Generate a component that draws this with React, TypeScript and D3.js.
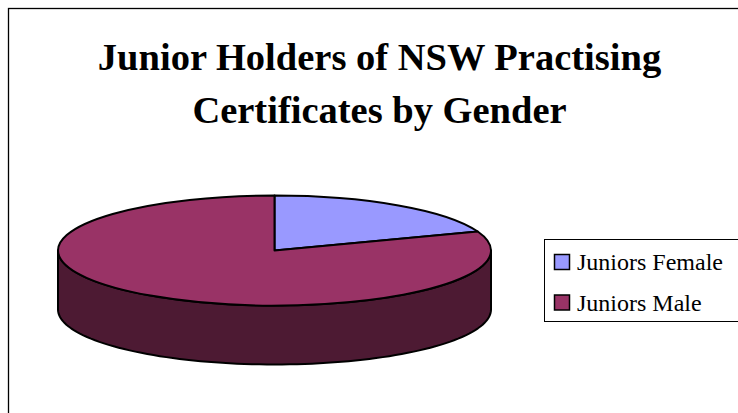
import React from 'react';
import * as d3 from 'd3';

const categories = ['Juniors Female', 'Juniors Male'];
const values = [19.4, 80.6];
const colors = ['#9999ff', '#993366'];
const wallColor = '#4d1a33';
const titleLines = ['Junior Holders of NSW Practising', 'Certificates by Gender'];

const width = 738;
const height = 413;

// pie ellipse
const cx = 274.5;
const cy = 250.5;
const rx = 216.5;
const ry = 55;
const depth = 59;

const serif = '"Liberation Serif", "Times New Roman", serif';

const pie = d3.pie<number>().sort(null);
const arcs = pie(values);
const arc = d3.arc<d3.PieArcDatum<number>>().innerRadius(0).outerRadius(rx);

// front wall of the pie, only the lower half of the ellipse shows
const wallAngles = d3.range(0, 181, 2).map(d => (d * Math.PI) / 180);
const wall = d3.area<number>()
  .x(t => cx + rx * Math.cos(t))
  .y0(t => cy + ry * Math.sin(t))
  .y1(t => cy + ry * Math.sin(t) + depth);

const legendY = d3.scalePoint<string>().domain(categories).range([262, 302.5]);

export default function App() {
  return (
    <svg width={width} height={height} style={{ position: 'absolute', left: 0, top: 0, background: '#fff' }}>
      {/* chart frame */}
      <rect x={8.5} y={8.5} width={width + 10} height={height + 10} fill="none" stroke="#000" strokeWidth={1.3} />

      <g fontFamily={serif} fontWeight="bold" fontSize={38.5} textAnchor="middle" fill="#000">
        {titleLines.map((line, i) => (
          <text key={line} x={379.5} y={70 + i * 53}>{line}</text>
        ))}
      </g>

      <path d={wall(wallAngles) ?? ''} fill={wallColor} stroke="#000" strokeWidth={2} strokeLinejoin="round" />

      <g transform={`translate(${cx},${cy}) scale(1,${ry / rx})`}>
        {arcs.map((d, i) => (
          <path
            key={categories[i]}
            d={arc(d) ?? ''}
            fill={colors[i]}
            stroke="#000"
            strokeWidth={2}
            strokeLinejoin="round"
            vectorEffect="non-scaling-stroke"
          />
        ))}
      </g>

      {/* legend runs off the right edge */}
      <rect x={544.5} y={239.5} width={210} height={82} fill="#fff" stroke="#000" strokeWidth={1} />
      {categories.map((c, i) => (
        <g key={c}>
          <rect x={554.5} y={(legendY(c) ?? 0) - 7.5} width={15} height={15} fill={colors[i]} stroke="#000" strokeWidth={1.5} />
          <text x={577} y={(legendY(c) ?? 0) + 8} fontFamily={serif} fontSize={24} fill="#000">{c}</text>
        </g>
      ))}
    </svg>
  );
}
